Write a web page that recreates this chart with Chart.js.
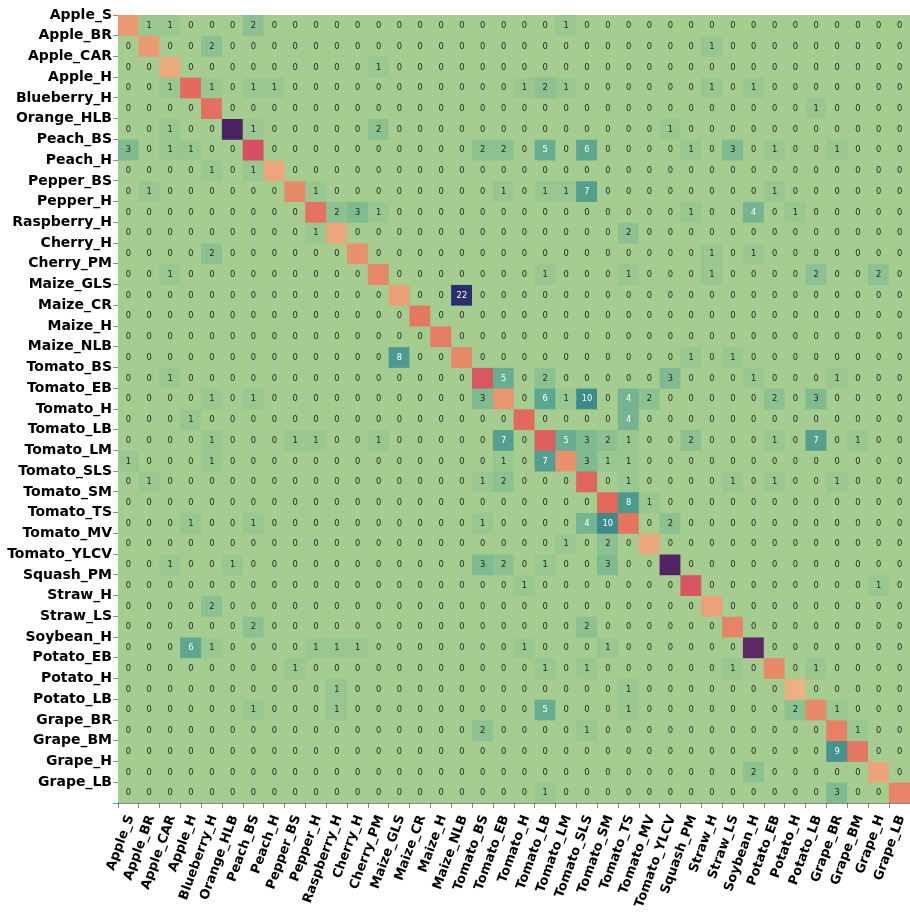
<!DOCTYPE html>
<html>
<head>
<meta charset="utf-8">
<script src="https://cdn.jsdelivr.net/npm/chart.js@4.4.1/dist/chart.umd.min.js"></script>
<style>
  html, body { margin: 0; padding: 0; background: #ffffff; }
  #wrap { width: 910px; height: 912px; position: relative; }
</style>
</head>
<body>
<div id="wrap"><canvas id="cm"></canvas></div>
<script>
// Class names, in the order used for both axes (true = rows, predicted = columns)
const classNames = [
  'Apple_S', 'Apple_BR', 'Apple_CAR', 'Apple_H', 'Blueberry_H', 'Orange_HLB',
  'Peach_BS', 'Peach_H', 'Pepper_BS', 'Pepper_H', 'Raspberry_H', 'Cherry_H',
  'Cherry_PM', 'Maize_GLS', 'Maize_CR', 'Maize_H', 'Maize_NLB', 'Tomato_BS',
  'Tomato_EB', 'Tomato_H', 'Tomato_LB', 'Tomato_LM', 'Tomato_SLS', 'Tomato_SM',
  'Tomato_TS', 'Tomato_MV', 'Tomato_YLCV', 'Squash_PM', 'Straw_H', 'Straw_LS',
  'Soybean_H', 'Potato_EB', 'Potato_H', 'Potato_LB', 'Grape_BR', 'Grape_BM',
  'Grape_H', 'Grape_LB'
];

// Correctly classified samples per class (diagonal, not annotated)
const diagonalCounts = [
  126, 124, 55, 329, 300, 1101,
  459, 72, 199, 295, 74, 171,
  210, 103, 270, 250, 197, 425,
  150, 330, 382, 165, 354, 335,
  281, 75, 1071, 430, 91, 222,
  1018, 200, 30, 200, 236, 277,
  85, 215
];

// Misclassifications: [true class index, predicted class index, count]
const misclassified = [
  [0, 1, 1], [0, 2, 1], [0, 6, 2], [0, 21, 1],
  [1, 4, 2], [1, 28, 1],
  [2, 12, 1],
  [3, 2, 1], [3, 4, 1], [3, 6, 1], [3, 7, 1], [3, 19, 1], [3, 20, 2], [3, 21, 1], [3, 28, 1], [3, 30, 1],
  [4, 33, 1],
  [5, 2, 1], [5, 6, 1], [5, 12, 2], [5, 26, 1],
  [6, 0, 3], [6, 2, 1], [6, 3, 1], [6, 17, 2], [6, 18, 2], [6, 20, 5], [6, 22, 6], [6, 27, 1], [6, 29, 3], [6, 31, 1], [6, 34, 1],
  [7, 4, 1], [7, 6, 1],
  [8, 1, 1], [8, 9, 1], [8, 18, 1], [8, 20, 1], [8, 21, 1], [8, 22, 7], [8, 31, 1],
  [9, 10, 2], [9, 11, 3], [9, 12, 1], [9, 27, 1], [9, 30, 4], [9, 32, 1],
  [10, 9, 1], [10, 24, 2],
  [11, 4, 2], [11, 28, 1], [11, 30, 1],
  [12, 2, 1], [12, 20, 1], [12, 24, 1], [12, 28, 1], [12, 33, 2], [12, 36, 2],
  [13, 16, 22],
  [16, 13, 8], [16, 27, 1], [16, 29, 1],
  [17, 2, 1], [17, 18, 5], [17, 20, 2], [17, 26, 3], [17, 30, 1], [17, 34, 1],
  [18, 4, 1], [18, 6, 1], [18, 17, 3], [18, 20, 6], [18, 21, 1], [18, 22, 10], [18, 24, 4], [18, 25, 2], [18, 31, 2], [18, 33, 3],
  [19, 3, 1], [19, 24, 4],
  [20, 4, 1], [20, 8, 1], [20, 9, 1], [20, 12, 1], [20, 18, 7], [20, 21, 5], [20, 22, 3], [20, 23, 2], [20, 24, 1], [20, 27, 2], [20, 31, 1], [20, 33, 7], [20, 35, 1],
  [21, 0, 1], [21, 4, 1], [21, 18, 1], [21, 20, 7], [21, 22, 3], [21, 23, 1], [21, 24, 1],
  [22, 1, 1], [22, 17, 1], [22, 18, 2], [22, 24, 1], [22, 29, 1], [22, 31, 1], [22, 34, 1],
  [23, 24, 8], [23, 25, 1],
  [24, 3, 1], [24, 6, 1], [24, 17, 1], [24, 22, 4], [24, 23, 10], [24, 26, 2],
  [25, 21, 1], [25, 23, 2],
  [26, 2, 1], [26, 5, 1], [26, 17, 3], [26, 18, 2], [26, 20, 1], [26, 23, 3],
  [27, 19, 1], [27, 36, 1],
  [28, 4, 2],
  [29, 6, 2], [29, 22, 2],
  [30, 3, 6], [30, 4, 1], [30, 9, 1], [30, 10, 1], [30, 11, 1], [30, 19, 1], [30, 23, 1],
  [31, 8, 1], [31, 20, 1], [31, 22, 1], [31, 29, 1], [31, 33, 1],
  [32, 10, 1], [32, 24, 1],
  [33, 6, 1], [33, 10, 1], [33, 20, 5], [33, 24, 1], [33, 32, 2], [33, 34, 1],
  [34, 17, 2], [34, 22, 1], [34, 35, 1],
  [35, 34, 9],
  [36, 30, 2],
  [37, 20, 1], [37, 34, 3]
];

// Full confusion matrix assembled from the two lists above
const n = classNames.length;
const matrix = classNames.map((_, r) => classNames.map((__, c) => (r === c ? diagonalCounts[r] : 0)));
misclassified.forEach(([r, c, v]) => { matrix[r][c] = v; });

// Colour ramps: green-blue ("crest") for errors, orange-purple ("flare") for the diagonal
const crestStops = ['#a5cd90', '#7dba91', '#59a590', '#40908e', '#287a8c', '#1c6488', '#254b7f', '#2b2d6e'];
const flareStops = ['#edb081', '#e98d6b', '#e3685c', '#d14a61', '#b13c6c', '#8f3371', '#6c2b6d', '#4b2362'];

function hexToRgb(h) {
  return [parseInt(h.slice(1, 3), 16), parseInt(h.slice(3, 5), 16), parseInt(h.slice(5, 7), 16)];
}
function ramp(stops, t) {
  t = Math.max(0, Math.min(1, t));
  const pos = t * (stops.length - 1);
  const i = Math.min(Math.floor(pos), stops.length - 2);
  const f = pos - i;
  const a = hexToRgb(stops[i]), b = hexToRgb(stops[i + 1]);
  return a.map((v, k) => Math.round(v + (b[k] - v) * f));
}
const offMax = Math.max(...misclassified.map(e => e[2]));
const diagMin = Math.min(...diagonalCounts);
const diagMax = Math.max(...diagonalCounts);

function cellRgb(r, c) {
  const v = matrix[r][c];
  if (r === c) return ramp(flareStops, (v - diagMin) / (diagMax - diagMin));
  return ramp(crestStops, v / offMax);
}
function luminance(rgb) {
  const lin = rgb.map(v => {
    const s = v / 255;
    return s <= 0.03928 ? s / 12.92 : Math.pow((s + 0.055) / 1.055, 2.4);
  });
  return 0.2126 * lin[0] + 0.7152 * lin[1] + 0.0722 * lin[2];
}
const css = rgb => `rgb(${rgb[0]},${rgb[1]},${rgb[2]})`;

// One floating-bar dataset per true class: each cell spans [row, row + 1]
const datasets = matrix.map((row, r) => ({
  label: classNames[r],
  data: row.map(() => [r, r + 1]),
  backgroundColor: row.map((_, c) => css(cellRgb(r, c))),
  borderWidth: 0,
  grouped: false,
  barPercentage: 1,
  categoryPercentage: 1
}));

// Count labels inside every off-diagonal cell
const cellText = {
  id: 'cellText',
  afterDatasetsDraw(chart) {
    const ctx = chart.ctx;
    ctx.save();
    ctx.font = '8.3px "DejaVu Sans"';
    ctx.textAlign = 'center';
    ctx.textBaseline = 'middle';
    matrix.forEach((row, r) => {
      const meta = chart.getDatasetMeta(r);
      row.forEach((v, c) => {
        if (r === c) return;
        const p = meta.data[c].getCenterPoint();
        ctx.fillStyle = luminance(cellRgb(r, c)) > 0.408 ? '#262626' : '#ffffff';
        ctx.fillText(String(v), p.x, p.y + 0.5);
      });
    });
    ctx.restore();
  }
};

const yTickFont = { family: 'DejaVu Sans', size: 14, weight: 'bold' };
const xTickFont = { family: 'DejaVu Sans', size: 13, weight: 'bold' };
const lineColor = 'rgba(0,0,0,0.9)';

new Chart(document.getElementById('cm'), {
  type: 'bar',
  data: { labels: classNames, datasets },
  options: {
    responsive: true,
    maintainAspectRatio: false,
    devicePixelRatio: 1,
    animation: false,
    events: [],
    layout: { padding: { top: 15, right: 0, bottom: 0, left: 0 } },
    plugins: { legend: { display: false }, tooltip: { enabled: false } },
    scales: {
      x: {
        type: 'category',
        offset: true,
        z: 1,
        afterFit: s => { s.height = 109; s.paddingLeft = 0; s.paddingRight = 0; },
        ticks: {
          autoSkip: false,
          minRotation: 70,
          maxRotation: 70,
          padding: 5,
          labelOffset: 2,
          color: '#000000',
          font: xTickFont
        },
        grid: { offset: true, color: lineColor, lineWidth: 0.5, tickLength: 5 },
        border: { display: false }
      },
      y: {
        type: 'linear',
        reverse: true,
        min: 0,
        max: n,
        z: 1,
        afterBuildTicks: s => {
          s.ticks = classNames.map((_, i) => ({ value: i })).concat([{ value: n }]);
        },
        afterFit: s => { s.width = 118; },
        ticks: {
          autoSkip: false,
          padding: 1,
          color: '#000000',
          font: yTickFont,
          callback: v => (classNames[v] !== undefined ? classNames[v] : '')
        },
        grid: { color: lineColor, lineWidth: 0.5, tickLength: 5 },
        border: { display: false }
      }
    }
  },
  plugins: [cellText]
});
</script>
</body>
</html>
